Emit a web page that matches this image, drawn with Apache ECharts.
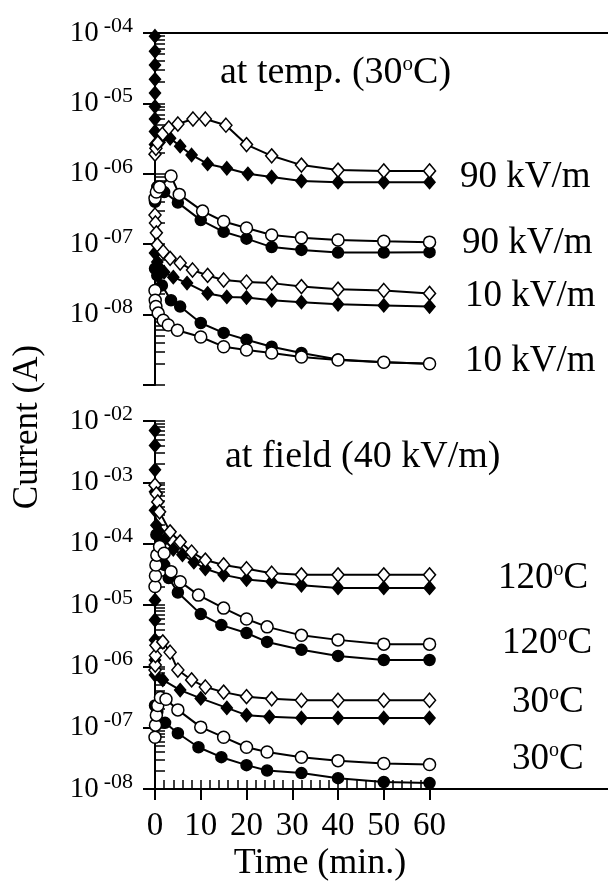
<!DOCTYPE html>
<html><head><meta charset="utf-8">
<script src="https://cdn.jsdelivr.net/npm/echarts@6/dist/echarts.min.js"></script>
<style>html,body{margin:0;padding:0;background:#fff}#c{width:608px;height:885px}</style>
</head><body><div id="c"></div>
<script>
// ---------- DATA (time in min, current in A) ----------
// Top panel: at temp. (30 °C)
const tA = [0, 0.2, 0.6, 1.7, 3, 5, 8.3, 11, 15.5, 20, 25.5, 32, 40, 50, 60];           // open diamond 90 kV/m
const vA = [1.9e-6, 2.3e-6, 2.75e-6, 3.7e-6, 4.5e-6, 5.1e-6, 6.0e-6, 6.0e-6, 4.9e-6, 2.6e-6, 1.8e-6, 1.33e-6, 1.13e-6, 1.1e-6, 1.1e-6];
const tB = [0, 0, 0, 0, 0, 0, 0, 0, 0, 1, 3.3, 5.5, 8, 11.5, 15.7, 20.3, 25.5, 32, 40, 50, 60]; // filled diamond 90 kV/m
const vB = [9e-5, 5.5e-5, 3.5e-5, 2.2e-5, 1.4e-5, 9e-6, 6e-6, 4e-6, 2.6e-6, 2.8e-6, 3.2e-6, 2.47e-6, 1.85e-6, 1.38e-6, 1.2e-6, 1.0e-6, 9.0e-7, 7.9e-7, 7.6e-7, 7.6e-7, 7.6e-7];
const tC = [0, 0.3, 1, 3.5, 5.3, 10.4, 15, 20, 25.5, 32, 40, 50, 60];                     // open circle 90 kV/m
const vC = [4.5e-7, 5.5e-7, 6.5e-7, 9.3e-7, 5.1e-7, 2.95e-7, 2.1e-7, 1.7e-7, 1.35e-7, 1.23e-7, 1.15e-7, 1.1e-7, 1.07e-7];
const tD = [0, 0.5, 2, 5, 10, 15, 20, 25.5, 32, 40, 50, 60];                             // filled circle 90 kV/m
const vD = [4e-7, 6.5e-7, 5.5e-7, 3.9e-7, 2.2e-7, 1.5e-7, 1.2e-7, 9.1e-8, 8.3e-8, 7.6e-8, 7.6e-8, 7.7e-8];
const tE = [0, 0.1, 0.3, 0.5, 1.8, 3.3, 5.5, 8.2, 11.5, 15, 20, 25.5, 32, 40, 50, 60];   // open diamond 10 kV/m
const vE = [2.6e-7, 2.0e-7, 1.45e-7, 9.8e-8, 7.8e-8, 6.3e-8, 5.4e-8, 4.3e-8, 3.6e-8, 3.1e-8, 2.9e-8, 2.8e-8, 2.5e-8, 2.3e-8, 2.2e-8, 2.0e-8];
const tF = [0, 0.5, 1, 2, 4, 7, 11.5, 15.7, 20, 25.5, 32, 40, 50, 60];                   // filled diamond 10 kV/m
const vF = [7.5e-8, 5.6e-8, 4.6e-8, 4e-8, 3.4e-8, 2.8e-8, 2.0e-8, 1.78e-8, 1.75e-8, 1.6e-8, 1.5e-8, 1.4e-8, 1.35e-8, 1.3e-8];
const tG = [0, 0.5, 1.5, 3.5, 5.5, 10, 15, 20, 25.5, 32, 40, 50, 60];                    // filled circle 10 kV/m
const vG = [4.5e-8, 3.6e-8, 2.6e-8, 1.6e-8, 1.3e-8, 7.6e-9, 5.5e-9, 4.4e-9, 3.5e-9, 2.85e-9, 2.3e-9, 2.1e-9, 2.0e-9];
const tH = [0, 0.05, 0.2, 0.7, 1.8, 2.9, 4.9, 10, 15, 20, 25.5, 32, 40, 50, 60];         // open circle 10 kV/m
const vH = [2.2e-8, 1.6e-8, 1.3e-8, 1.05e-8, 8.3e-9, 7.1e-9, 6.0e-9, 4.8e-9, 3.5e-9, 3.15e-9, 2.85e-9, 2.5e-9, 2.26e-9, 2.1e-9, 2.0e-9];
// Bottom panel: at field (40 kV/m)
const tI = [0, 0.3, 0.6, 1, 3.3, 5.5, 8, 11, 15, 20, 25.5, 32, 40, 50, 60];              // open diamond 120 °C
const vI = [9e-4, 6.5e-4, 4.8e-4, 3.3e-4, 1.56e-4, 1.07e-4, 7.3e-5, 5.4e-5, 4.5e-5, 3.9e-5, 3.3e-5, 3.1e-5, 3.1e-5, 3.1e-5, 3.1e-5];
const tJ = [0, 0, 0, 0, 0, 0.3, 0.8, 2, 4, 6, 8.5, 11, 15, 20, 25.5, 32, 40, 50, 60];    // filled diamond 120 °C
const vJ = [7e-3, 4e-3, 1.6e-3, 7e-4, 3.5e-4, 2e-4, 1.6e-4, 1.15e-4, 8.1e-5, 6.6e-5, 5e-5, 3.9e-5, 3.1e-5, 2.6e-5, 2.4e-5, 2.1e-5, 1.9e-5, 1.9e-5, 1.9e-5];
const tK = [0, 0.1, 0.2, 0.4, 1, 2, 3.5, 5.5, 9.5, 15, 20, 24.5, 32, 40, 50, 60];        // open circle 120 °C
const vK = [2e-5, 3e-5, 4.5e-5, 6.5e-5, 9e-5, 7e-5, 3.5e-5, 2.4e-5, 1.45e-5, 8.9e-6, 5.9e-6, 4.4e-6, 3.2e-6, 2.7e-6, 2.3e-6, 2.3e-6];
const tL = [0.3, 1, 2, 3, 5, 10, 14.5, 20, 24.5, 32, 40, 50, 60];                        // filled circle 120 °C
const vL = [1.4e-4, 8.5e-5, 4.5e-5, 2.75e-5, 1.6e-5, 7.1e-6, 4.7e-6, 3.5e-6, 2.5e-6, 1.86e-6, 1.48e-6, 1.27e-6, 1.27e-6];
const tM = [0, 0.05, 0.1, 0.2, 1.7, 3.3, 5, 8, 11, 15, 20, 25.5, 32, 40, 50, 60];        // open diamond 30 °C
const vM = [8.7e-7, 1.05e-6, 1.5e-6, 2.2e-6, 2.5e-6, 1.7e-6, 8.7e-7, 6.0e-7, 4.6e-7, 3.8e-7, 3.2e-7, 2.95e-7, 2.8e-7, 2.8e-7, 2.8e-7, 2.8e-7];
const tN = [0, 0, 0, 0, 0, 1.7, 5.5, 10, 15.7, 20, 25, 32, 40, 50, 60];                  // filled diamond 30 °C
const vN = [1.2e-5, 5.7e-6, 2.7e-6, 1.27e-6, 7.2e-7, 6e-7, 4.1e-7, 3.0e-7, 2.1e-7, 1.6e-7, 1.5e-7, 1.44e-7, 1.44e-7, 1.44e-7, 1.44e-7];
const tO = [0, 0.1, 0.3, 0.6, 1.2, 2.4, 5, 10, 15, 20, 24.5, 32, 40, 50, 60];            // open circle 30 °C
const vO = [7e-8, 1.1e-7, 1.6e-7, 2.3e-7, 3.1e-7, 2.9e-7, 1.95e-7, 1.02e-7, 7e-8, 4.8e-8, 4e-8, 3.3e-8, 2.9e-8, 2.6e-8, 2.5e-8];
const tP = [0, 0.5, 2.2, 5, 9.5, 14.5, 20, 24.5, 32, 40, 50, 60];                        // filled circle 30 °C
const vP = [2.3e-7, 1.8e-7, 1.2e-7, 8.1e-8, 4.8e-8, 3.3e-8, 2.45e-8, 2.0e-8, 1.82e-8, 1.5e-8, 1.3e-8, 1.25e-8];

const xTickLabels = [0, 10, 20, 30, 40, 50, 60];
const topDecades = [1e-9, 1e-8, 1e-7, 1e-6, 1e-5, 1e-4];
const botDecades = [1e-8, 1e-7, 1e-6, 1e-5, 1e-4, 1e-3, 1e-2];
const topTexts = ['90 kV/m', '90 kV/m', '10 kV/m', '10 kV/m'];
const botTexts = ['120{o|o}C', '120{o|o}C', '30{o|o}C', '30{o|o}C'];

// ---------- BUILD ----------
const FF = '"Liberation Serif", "Times New Roman", serif';
const XMAX = 99;
function zip(t, v) { return t.map((x, i) => [x, v[i]]); }
function minorOf(decs) {
  const out = [];
  decs.forEach((d, i) => { out.push(d); if (i < decs.length - 1) for (let k = 2; k <= 9; k++) out.push(k * d); });
  return out;
}
const minorX = []; for (let x = 0; x <= 60; x += 2) minorX.push(x);
function yFmt(v) {
  const e = Math.round(Math.log10(v));
  return '{b|10}{s|' + (e < 0 ? '-' : '') + String(Math.abs(e)).padStart(2, '0') + '}';
}
const yRich = {
  b: { fontSize: 29, fontFamily: FF, color: '#000', lineHeight: 36 },
  s: { fontSize: 22, fontFamily: FF, color: '#000', lineHeight: 22, verticalAlign: 'top', padding: [0, 0, 0, 5] }
};
const LW = 2;
function ser(t, v, grid, sym, filled, size) {
  return {
    type: 'line', xAxisIndex: grid === 0 ? 0 : 1, yAxisIndex: grid === 0 ? 0 : 2,
    data: zip(t, v), symbol: sym, symbolSize: size, showSymbol: true, clip: false,
    lineStyle: { color: '#000', width: LW },
    itemStyle: { color: filled ? '#000' : '#fff', borderColor: '#000', borderWidth: 1.5 },
    emphasis: { disabled: true }, z: filled ? 3 : 4
  };
}
const OD = [12, 14], FD = [11, 13], OC = 12, FC = 11;
const series = [
  ser(tA, vA, 0, 'diamond', false, OD), ser(tB, vB, 0, 'diamond', true, FD),
  ser(tC, vC, 0, 'circle', false, OC), ser(tD, vD, 0, 'circle', true, FC),
  ser(tE, vE, 0, 'diamond', false, OD), ser(tF, vF, 0, 'diamond', true, FD),
  ser(tG, vG, 0, 'circle', true, FC), ser(tH, vH, 0, 'circle', false, OC),
  ser(tI, vI, 1, 'diamond', false, OD), ser(tJ, vJ, 1, 'diamond', true, FD),
  ser(tK, vK, 1, 'circle', false, OC), ser(tL, vL, 1, 'circle', true, FC),
  ser(tM, vM, 1, 'diamond', false, OD), ser(tN, vN, 1, 'diamond', true, FD),
  ser(tO, vO, 1, 'circle', false, OC), ser(tP, vP, 1, 'circle', true, FC)
];
const lineS = { color: '#000', width: LW };
function yMain(grid, mn, mx, decs, labs) {
  return { gridIndex: grid, type: 'log', logBase: 10, min: mn, max: mx, position: 'left',
    axisLine: { show: true, lineStyle: lineS },
    axisTick: { show: true, inside: false, length: 12, customValues: decs, lineStyle: lineS },
    minorTick: { show: false }, splitLine: { show: false },
    axisLabel: { show: true, customValues: labs, formatter: yFmt, rich: yRich, margin: 22 } };
}
function yMinor(grid, mn, mx, decs) {
  return { gridIndex: grid, type: 'log', logBase: 10, min: mn, max: mx, position: 'left', offset: 0,
    axisLine: { show: false },
    axisTick: { show: true, inside: true, length: 10, customValues: minorOf(decs), lineStyle: { color: '#000', width: 1.5 } },
    splitLine: { show: false }, axisLabel: { show: false } };
}
const txt = (text, x, y, size, align) => ({
  type: 'text', x: x, y: y, silent: true,
  style: { text: text, fill: '#000', font: size + 'px ' + FF, textAlign: align || 'left', textVerticalAlign: 'middle',
    rich: { o: { fontSize: Math.round(size * 0.55), fontFamily: FF, verticalAlign: 'top', lineHeight: Math.round(size * 0.55) } } }
});
const option = {
  animation: false,
  backgroundColor: '#fff',
  grid: [
    { left: 155, top: 33, right: 0, height: 352 },
    { left: 155, top: 421, right: 0, height: 368 }
  ],
  xAxis: [
    { gridIndex: 0, type: 'value', min: 0, max: XMAX, position: 'top',
      axisLine: { show: true, lineStyle: lineS }, axisTick: { show: false }, axisLabel: { show: false }, splitLine: { show: false } },
    { gridIndex: 1, type: 'value', min: 0, max: XMAX, position: 'bottom',
      axisLine: { show: true, lineStyle: lineS },
      axisTick: { show: true, inside: false, length: 11, customValues: xTickLabels, lineStyle: lineS },
      axisLabel: { show: true, customValues: xTickLabels, fontSize: 33, fontFamily: FF, color: '#000', margin: 21 },
      splitLine: { show: false } },
    { gridIndex: 1, type: 'value', min: 0, max: XMAX, position: 'bottom',
      axisLine: { show: false },
      axisTick: { show: true, inside: true, length: 9, customValues: minorX, lineStyle: { color: '#000', width: 1.5 } },
      axisLabel: { show: false }, splitLine: { show: false } }
  ],
  yAxis: [
    yMain(0, 1e-9, 1e-4, topDecades, topDecades.slice(1)),
    yMinor(0, 1e-9, 1e-4, topDecades),
    yMain(1, 1e-8, 1e-2, botDecades, botDecades),
    yMinor(1, 1e-8, 1e-2, botDecades)
  ],
  series: series,
  graphic: [
    txt('at temp. (30{o|o}C)', 220, 73, 38),
    txt('at field (40 kV/m)', 225, 457, 38),
    txt(topTexts[0], 460, 177, 37), txt(topTexts[1], 462, 243, 37),
    txt(topTexts[2], 465, 296, 37), txt(topTexts[3], 465, 361, 37),
    txt(botTexts[0], 498, 578, 37), txt(botTexts[1], 502, 643, 37),
    txt(botTexts[2], 512, 702, 37), txt(botTexts[3], 512, 759, 37),
    txt('Time (min.)', 320, 864, 36, 'center'),
    Object.assign(txt('Current (A)', 28, 427, 35, 'center'), { rotation: Math.PI / 2 })
  ]
};
const chart = echarts.init(document.getElementById('c'), null, { renderer: 'canvas' });
chart.setOption(option);
</script></body></html>
